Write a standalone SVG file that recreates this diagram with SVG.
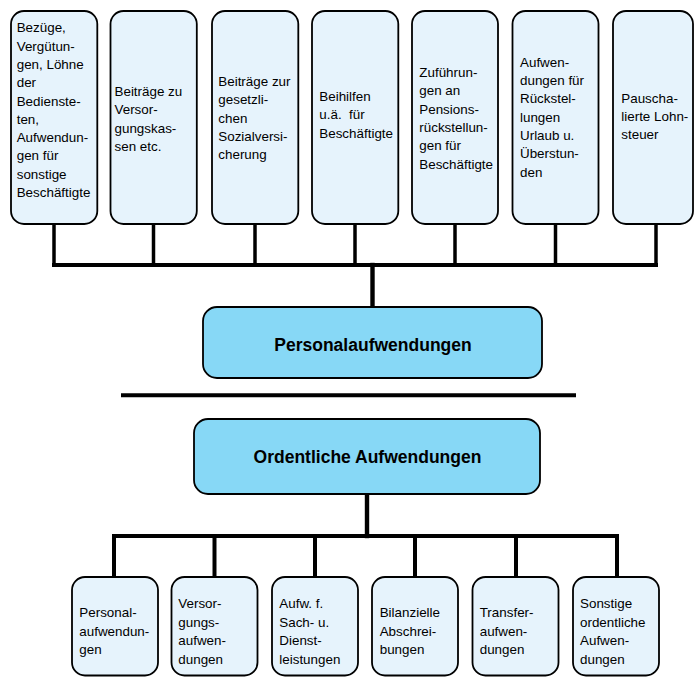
<svg xmlns="http://www.w3.org/2000/svg" width="694" height="677" viewBox="0 0 694 677">
<style>
.box{fill:#E6F3FC;stroke:#000;stroke-width:1.8}
.main{fill:#87D8F6;stroke:#000;stroke-width:1.8}
.t{font-family:"Liberation Sans",Arial,sans-serif;font-size:13.4px;fill:#000}
.b{font-family:"Liberation Sans",Arial,sans-serif;font-size:17.5px;font-weight:bold;fill:#000;text-anchor:middle}
.c{stroke:#000;fill:none;stroke-linecap:square}
</style>
<rect width="694" height="677" fill="#fff"/>
<g id="connectors">
<g class="c" stroke-width="3.5">
<line x1="54" y1="224" x2="54" y2="265"/>
<line x1="153.5" y1="224" x2="153.5" y2="265"/>
<line x1="255" y1="224" x2="255" y2="265"/>
<line x1="355" y1="224" x2="355" y2="265"/>
<line x1="455" y1="224" x2="455" y2="265"/>
<line x1="555.5" y1="224" x2="555.5" y2="265"/>
<line x1="656" y1="224" x2="656" y2="265"/>
</g>
<line class="c" x1="54" y1="265" x2="656" y2="265" stroke-width="4"/>
<line class="c" x1="372.5" y1="265" x2="372.5" y2="307" stroke-width="4.4"/>
<line x1="121" y1="395.3" x2="576" y2="395.3" stroke="#000" stroke-width="4"/>
<line class="c" x1="367" y1="494" x2="367" y2="536" stroke-width="4.4"/>
<line class="c" x1="114" y1="536" x2="617" y2="536" stroke-width="4"/>
<g class="c" stroke-width="4">
<line x1="114" y1="536" x2="114" y2="577"/>
<line x1="214.5" y1="536" x2="214.5" y2="577"/>
<line x1="315" y1="536" x2="315" y2="577"/>
<line x1="415" y1="536" x2="415" y2="577"/>
<line x1="516" y1="536" x2="516" y2="577"/>
<line x1="617" y1="536" x2="617" y2="577"/>
</g>
</g>
<g id="top1"><rect class="box" x="11" y="11" width="86.3" height="213" rx="13"/>
<text class="t"><tspan x="16.7" y="32.3">Bezüge,</tspan><tspan x="16.7" y="50.6">Vergütun-</tspan><tspan x="16.7" y="68.9">gen, Löhne</tspan><tspan x="16.7" y="87.2">der</tspan><tspan x="16.7" y="105.5">Bedienste-</tspan><tspan x="16.7" y="123.8">ten,</tspan><tspan x="16.7" y="142.1">Aufwendun-</tspan><tspan x="16.7" y="160.4">gen für</tspan><tspan x="16.7" y="178.7">sonstige</tspan><tspan x="16.7" y="197">Beschäftigte</tspan></text></g>
<g id="top2"><rect class="box" x="110.5" y="11" width="86.3" height="213" rx="13"/>
<text class="t"><tspan x="114.5" y="96">Beiträge zu</tspan><tspan x="114.5" y="114.3">Versor-</tspan><tspan x="114.5" y="132.6">gungskas-</tspan><tspan x="114.5" y="150.9">sen etc.</tspan></text></g>
<g id="top3"><rect class="box" x="212" y="11" width="86.3" height="213" rx="13"/>
<text class="t"><tspan x="218.3" y="86">Beiträge zur</tspan><tspan x="218.3" y="104.3">gesetzli-</tspan><tspan x="218.3" y="122.6">chen</tspan><tspan x="218.3" y="140.9">Sozialversi-</tspan><tspan x="218.3" y="159.2">cherung</tspan></text></g>
<g id="top4"><rect class="box" x="312" y="11" width="86.3" height="213" rx="13"/>
<text class="t"><tspan x="319.3" y="101">Beihilfen</tspan><tspan x="319.3" y="119.3">u.ä.&#160; für</tspan><tspan x="319.3" y="137.6">Beschäftigte</tspan></text></g>
<g id="top5"><rect class="box" x="412" y="11" width="86" height="213" rx="13"/>
<text class="t"><tspan x="419.3" y="77">Zuführun-</tspan><tspan x="419.3" y="95.3">gen an</tspan><tspan x="419.3" y="113.6">Pensions-</tspan><tspan x="419.3" y="131.9">rückstellun-</tspan><tspan x="419.3" y="150.2">gen für</tspan><tspan x="419.3" y="168.5">Beschäftigte</tspan></text></g>
<g id="top6"><rect class="box" x="512.5" y="11" width="86" height="213" rx="13"/>
<text class="t"><tspan x="520" y="66.7">Aufwen-</tspan><tspan x="520" y="85">dungen für</tspan><tspan x="520" y="103.3">Rückstel-</tspan><tspan x="520" y="121.6">lungen</tspan><tspan x="520" y="139.9">Urlaub u.</tspan><tspan x="520" y="158.2">Überstun-</tspan><tspan x="520" y="176.5">den</tspan></text></g>
<g id="top7"><rect class="box" x="613" y="11" width="80" height="213" rx="13"/>
<text class="t"><tspan x="621.3" y="102.7">Pauscha-</tspan><tspan x="621.3" y="121">lierte Lohn-</tspan><tspan x="621.3" y="139.3">steuer</tspan></text></g>
<g id="personal"><rect class="main" x="203" y="307" width="339" height="71" rx="14"/>
<text class="b" x="373" y="350.7">Personalaufwendungen</text></g>
<g id="ordentlich"><rect class="main" x="194" y="419" width="346" height="75" rx="14"/>
<text class="b" x="367.5" y="463.3">Ordentliche Aufwendungen</text></g>
<g id="bot1"><rect class="box" x="72" y="577" width="86" height="98.5" rx="13"/>
<text class="t"><tspan x="79.3" y="617">Personal-</tspan><tspan x="79.3" y="635.5">aufwendun-</tspan><tspan x="79.3" y="654">gen</tspan></text></g>
<g id="bot2"><rect class="box" x="171.5" y="577" width="86" height="98.5" rx="13"/>
<text class="t"><tspan x="178.3" y="608.3">Versor-</tspan><tspan x="178.3" y="626.8">gungs-</tspan><tspan x="178.3" y="645.3">aufwen-</tspan><tspan x="178.3" y="663.8">dungen</tspan></text></g>
<g id="bot3"><rect class="box" x="272" y="577" width="86" height="98.5" rx="13"/>
<text class="t"><tspan x="279.3" y="608.3">Aufw. f.</tspan><tspan x="279.3" y="626.8">Sach- u.</tspan><tspan x="279.3" y="645.3">Dienst-</tspan><tspan x="279.3" y="663.8">leistungen</tspan></text></g>
<g id="bot4"><rect class="box" x="372" y="577" width="86" height="98.5" rx="13"/>
<text class="t"><tspan x="379.7" y="617">Bilanzielle</tspan><tspan x="379.7" y="635.5">Abschrei-</tspan><tspan x="379.7" y="654">bungen</tspan></text></g>
<g id="bot5"><rect class="box" x="472.5" y="577" width="86" height="98.5" rx="13"/>
<text class="t"><tspan x="479.7" y="617">Transfer-</tspan><tspan x="479.7" y="635.5">aufwen-</tspan><tspan x="479.7" y="654">dungen</tspan></text></g>
<g id="bot6"><rect class="box" x="573" y="577" width="86" height="98.5" rx="13"/>
<text class="t"><tspan x="580" y="608.3">Sonstige</tspan><tspan x="580" y="626.8">ordentliche</tspan><tspan x="580" y="645.3">Aufwen-</tspan><tspan x="580" y="663.8">dungen</tspan></text></g>
</svg>
